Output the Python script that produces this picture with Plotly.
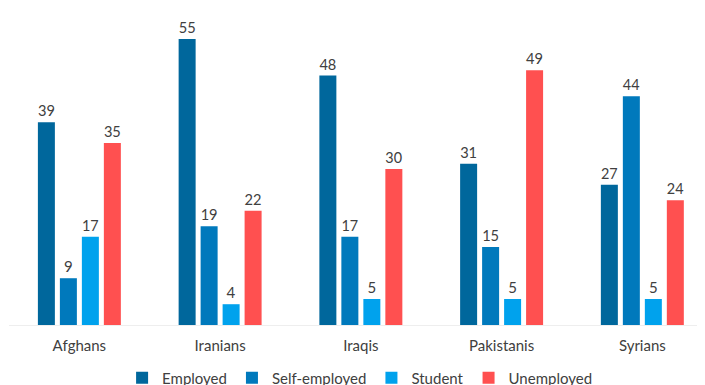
import plotly.graph_objects as go

categories = ["Afghans", "Iranians", "Iraqis", "Pakistanis", "Syrians"]
employed = [39, 55, 48, 31, 27]
self_employed = [9, 19, 17, 15, 44]
student = [17, 4, 5, 5, 5]
unemployed = [35, 22, 30, 49, 24]

series = [
    ("Employed", employed, "#00679c"),
    ("Self-employed", self_employed, "#0079bc"),
    ("Student", student, "#00a2ed"),
    ("Unemployed", unemployed, "#ff5050"),
]

fig = go.Figure()
for name, vals, color in series:
    fig.add_trace(go.Bar(
        x=categories, y=vals, name=name,
        marker=dict(color=color, line=dict(width=0)),
        text=[str(v) for v in vals], textposition="outside",
        textfont=dict(size=15, color="#404040"),
        cliponaxis=False,
    ))

fig.update_layout(
    width=705, height=385,
    margin=dict(l=1, r=0, t=2, b=68, autoexpand=False),
    barmode="group", bargap=0.375, bargroupgap=0.227,
    plot_bgcolor="white", paper_bgcolor="white",
    font=dict(family="Lato, Open Sans, sans-serif", size=14, color="#404040"),
    xaxis=dict(range=[-0.5, 4.502], showgrid=False, showline=True,
               linecolor="#eeeeee", linewidth=1, ticks="outside",
               ticklen=7, tickcolor="rgba(0,0,0,0)",
               tickfont=dict(size=15, color="#404040")),
    yaxis=dict(range=[0, 60.6], visible=False, showgrid=False),
    legend=dict(orientation="h", x=0.498, xanchor="center", y=-0.168,
                yanchor="middle", font=dict(size=15, color="#404040"),
                itemsizing="constant"),
    showlegend=True,
)

fig.write_html("out.html")
